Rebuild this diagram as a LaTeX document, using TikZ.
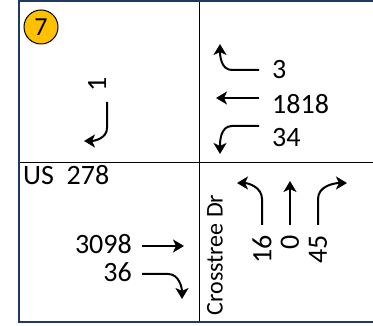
\documentclass[tikz,border=0pt]{standalone}
\usepackage{fontspec}
\setmainfont{Carlito}
\usetikzlibrary{arrows.meta}
\definecolor{frame}{RGB}{31,56,100}
\definecolor{badge}{RGB}{255,192,0}
\begin{document}
\begin{tikzpicture}[
    x=1pt, y=1pt,
    lbl/.style={inner sep=0pt, font=\fontsize{28}{30}\selectfont},
    turn/.style={line width=2pt, -{Stealth[length=11pt, width=13pt, inset=3pt]}},
    grid/.style={line width=0.8pt}
]
\useasboundingbox (0,0) rectangle (373,326);
% frame and quadrants
\draw[grid] (199,4) -- (199,325);
\draw[grid] (19,164) -- (375,164);
\draw[frame, line width=2.4pt] (375,325) -- (19,325) -- (19,4) -- (375,4);

\node[circle, draw, line width=1pt, fill=badge, minimum size=34pt, inner sep=0pt,
      font=\fontsize{26}{28}\selectfont] (badge) at (41,299) {7};

% southbound approach (top left)
\node[lbl, rotate=90] (sbR) at (97,242) {1};
\coordinate (sbRs) at (107,224);
\draw[turn] (sbRs) -- (107,198) to[out=-90, in=0] (84,185);

% westbound approach (top right)
\node[lbl, anchor=west] (wbU) at (272,256) {3};
\node[lbl, anchor=west] (wbT) at (272,222) {1818};
\node[lbl, anchor=west] (wbL) at (272,188) {34};
\draw[turn] (wbU.west) ++(-13,0) -- (232,256) to[out=180, in=-90] (220,282);
\draw[turn] (wbT.west) ++(-13,6) -- (216,228);
\draw[turn] (wbL.west) ++(-13,12) -- (232,200) to[out=180, in=90] (220,172);

% eastbound approach (bottom left)
\node[lbl, anchor=north west] (road) at (23,161) {US\ \ 278};
\node[lbl, anchor=east] (ebT) at (132,82) {3098};
\node[lbl, anchor=east] (ebR) at (132,54) {36};
\draw[turn] (ebT.east) ++(10,-2) -- (184,80);
\draw[turn] (ebR.east) ++(10,-2) -- (168,52) to[out=0, in=90] (182,27);

% northbound approach (bottom right)
\node[lbl, rotate=90, font=\fontsize{24}{26}\selectfont] (side) at (215,71) {Crosstree Dr};
\node[lbl, rotate=90, anchor=east] (nbL) at (262,91) {16};
\node[lbl, rotate=90, anchor=east] (nbT) at (290,91) {0};
\node[lbl, rotate=90, anchor=east] (nbR) at (318,91) {45};
\draw[turn] (nbL.east) ++(0,10) -- (262,127) to[out=90, in=0] (237,143);
\draw[turn] (nbT.east) ++(0,10) -- (290,145);
\draw[turn] (nbR.east) ++(0,10) -- (318,127) to[out=90, in=180] (347,143);
\end{tikzpicture}
\end{document}
